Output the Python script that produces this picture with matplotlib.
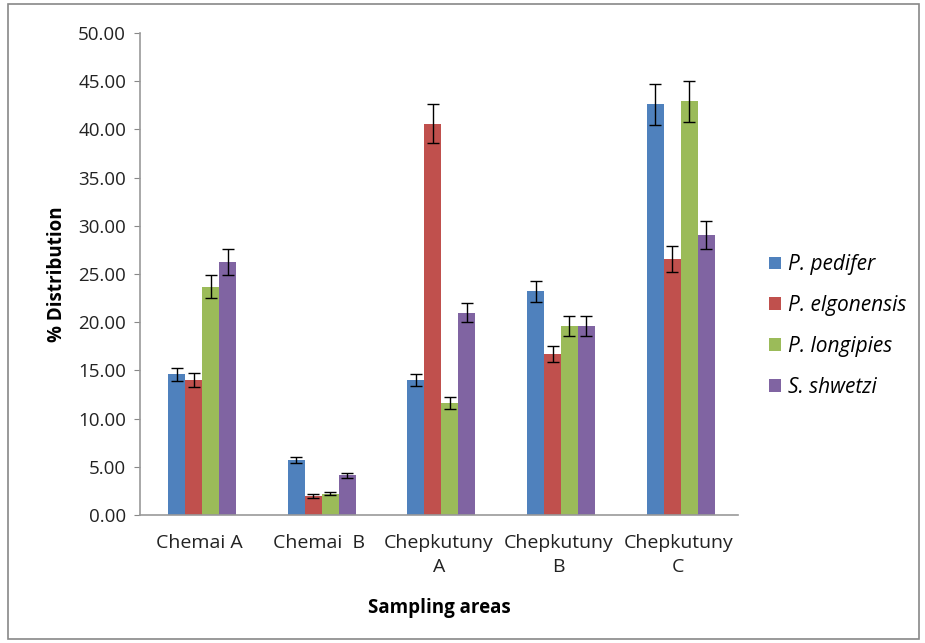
import matplotlib.pyplot as plt
import numpy as np
from matplotlib.patches import Rectangle

plt.rcParams['font.family'] = ['Open Sans', 'DejaVu Sans']

areas = ['Chemai A', 'Chemai  B', 'Chepkutuny\nA', 'Chepkutuny\nB', 'Chepkutuny\nC']
species = ['P. pedifer', 'P. elgonensis', 'P. longipies', 'S. shwetzi']
colors = ['#4F81BD', '#C0504D', '#9BBB59', '#8064A2']

pedifer = [14.6, 5.7, 14.0, 23.2, 42.6]
elgonensis = [14.0, 1.95, 40.6, 16.7, 26.6]
longipies = [23.7, 2.2, 11.6, 19.6, 42.9]
shwetzi = [26.2, 4.1, 21.0, 19.6, 29.0]

pedifer_err = [0.7, 0.3, 0.65, 1.1, 2.1]
elgonensis_err = [0.75, 0.2, 2.0, 0.85, 1.35]
longipies_err = [1.2, 0.17, 0.65, 1.0, 2.1]
shwetzi_err = [1.35, 0.3, 1.0, 1.0, 1.45]

values = [pedifer, elgonensis, longipies, shwetzi]
errors = [pedifer_err, elgonensis_err, longipies_err, shwetzi_err]

fig = plt.figure(figsize=(9.25, 6.43), dpi=100)
ax = fig.add_axes([140 / 925, 1 - 515 / 643, 598 / 925, 482 / 643])

x = np.arange(len(areas))
w = 0.142
for i, (vals, errs) in enumerate(zip(values, errors)):
    ax.bar(x + (i - 1.5) * w + 0.02, vals, w, color=colors[i], label=species[i],
           yerr=errs, capsize=4,
           error_kw=dict(ecolor='black', elinewidth=1, capthick=1))

ax.set_xlim(-0.5, 4.5)
ax.set_ylim(0, 50)
ticks = np.arange(0, 50.1, 5)
ax.set_yticks(ticks)
ax.set_yticklabels([f'{v:.2f}' for v in ticks], fontsize=13.5, color='#222222')
ax.set_xticks(x)
ax.set_xticklabels(areas, fontsize=14, color='#222222', linespacing=1.4)
ax.tick_params(axis='x', length=0, pad=14)
ax.tick_params(axis='y', length=4, color='#888888', pad=6)
for s in ['top', 'right']:
    ax.spines[s].set_visible(False)
for s in ['left', 'bottom']:
    ax.spines[s].set_color('#999999')
    ax.spines[s].set_linewidth(1.2)

ax.set_ylabel('% Distribution', fontsize=13.5, fontweight='bold', labelpad=8)
ax.set_xlabel('Sampling areas', fontsize=13.5, fontweight='bold', labelpad=16)

leg = ax.legend(loc='center left', bbox_to_anchor=(1.052, 0.392), frameon=False,
                fontsize=15, handlelength=0.58, handleheight=0.58,
                labelspacing=0.95, handletextpad=0.34, borderpad=0, borderaxespad=0)
for t in leg.get_texts():
    t.set_fontstyle('italic')

fig.patches.append(Rectangle((8 / 925, 4 / 643), 911 / 925, 635 / 643,
                             transform=fig.transFigure, fill=False,
                             edgecolor='#888888', linewidth=1.2))

fig.savefig('out.png', dpi=100)
